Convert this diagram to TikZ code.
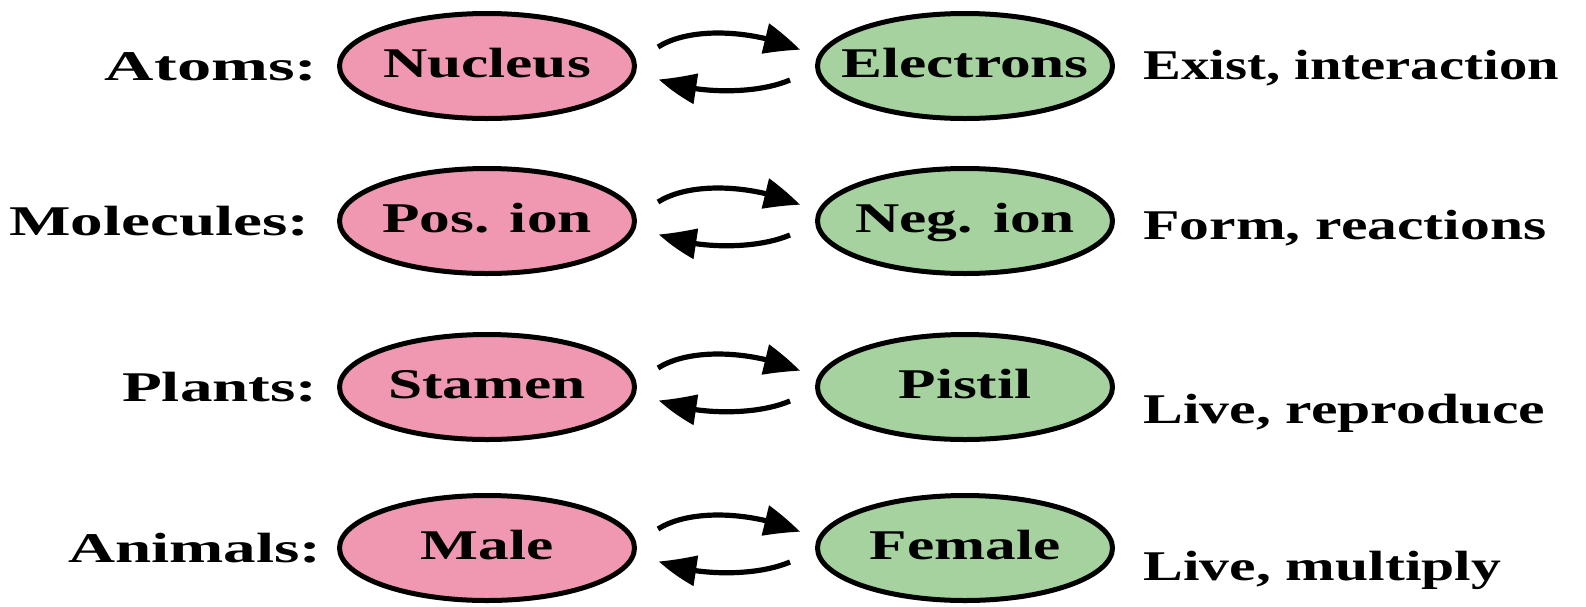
\documentclass[tikz,border=0pt]{standalone}
\usepackage{fontspec}
\newfontfamily\widefont[FakeStretch=1.45]{Liberation Serif}
\newfontfamily\leftfont[FakeStretch=1.54]{Liberation Serif}
\newfontfamily\rightfont[FakeStretch=1.41]{Liberation Serif}
\usetikzlibrary{shapes.geometric,arrows.meta,calc,bending}
\definecolor{pinkfill}{RGB}{240,152,178}
\definecolor{greenfill}{RGB}{166,210,160}
\tikzset{
  lbl/.style={inner sep=0pt},
  leftlbl/.style={lbl, font=\leftfont\bfseries\fontsize{21.15}{25}\selectfont},
  rightlbl/.style={lbl, font=\rightfont\bfseries\fontsize{21.15}{25}\selectfont},
  ell/.style={ellipse, draw=black, line width=2.5pt, minimum width=147.5pt, minimum height=52.5pt,
    inner sep=0pt, font=\widefont\bfseries\fontsize{21.15}{25}\selectfont, text height=15pt, text depth=4pt},
  pinkell/.style={ell, fill=pinkfill},
  greenell/.style={ell, fill=greenfill},
  arr/.style={line width=2.6pt, -{Triangle[length=18pt,width=15pt,bend]}},
}
\newcommand{\zw}[1]{\makebox[0pt]{#1}}
\begin{document}
\begin{tikzpicture}[x=0.5pt,y=-0.5pt]
\useasboundingbox (0,0) rectangle (1586,606);
\foreach \n/\y/\lx/\ltxt/\ptxt/\gtxt/\rtxt/\rb in {
  1/66/318/{\scalebox{1.05}[1]{Atoms:}}/Nucleus/Electrons/{\scalebox{0.95}[1]{Exist, interaction}}/79,
  2/221/310/Molecules:/Pos. ion/Neg. ion/{Form, reactions}/239,
  3/387/318/Plants:/Stamen/Pistil/{Live, reproduce}/423,
  4/548/322/Animals:/Male/Female/{Live, multiply}/580}{
  \node[pinkell] (p\n) at (487,\y) {\zw{\ptxt}};
  \node[greenell] (g\n) at (965,\y) {\zw{\gtxt}};
  \node[leftlbl, anchor=base east] (l\n) at (\lx,\y+14) {\ltxt};
  \node[rightlbl, anchor=base west] (r\n) at (1143,\rb) {\rtxt};
  \draw[arr] ($(p\n.east)+(21,-19)$) .. controls ($(p\n.east)+(54,-40)$) and ($(g\n.west)+(-60,-36)$) .. ($(g\n.west)+(-15,-16)$);
  \draw[arr] ($(g\n.west)+(-25,14)$) .. controls ($(g\n.west)+(-60,29)$) and ($(p\n.east)+(56,28)$) .. ($(p\n.east)+(22,13)$);
}
\end{tikzpicture}
\end{document}
